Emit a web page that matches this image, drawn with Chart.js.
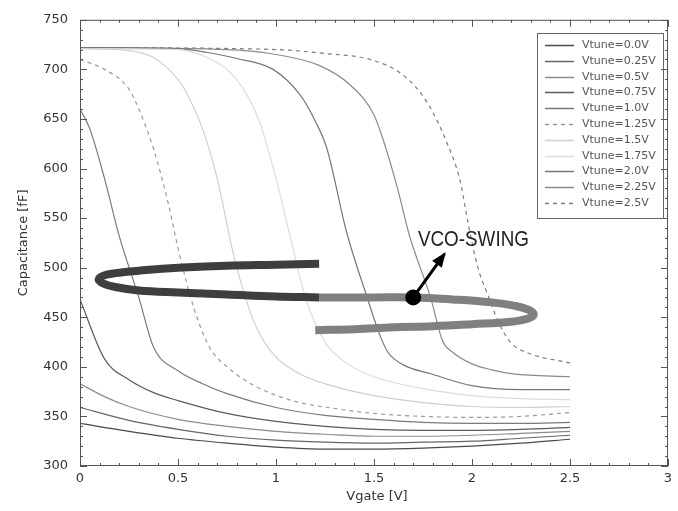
<!DOCTYPE html>
<html>
<head>
<meta charset="utf-8">
<title>Capacitance vs Vgate</title>
<script src="https://cdn.jsdelivr.net/npm/chart.js@4.4.1/dist/chart.umd.min.js"></script>
<style>
  body { margin: 0; background: #fff; }
  #wrap { width: 678px; height: 511px; }
</style>
</head>
<body>
<div id="wrap"><canvas id="capChart" width="678" height="511"></canvas></div>
<script>
// ---- axis ticks ----
const xTicks = [0, 0.5, 1, 1.5, 2, 2.5, 3];
const yTicks = [300, 350, 400, 450, 500, 550, 600, 650, 700, 750];

// ---- series: [Vgate, C(fF)] ----
const tuneLabels = ['Vtune=0.0V', 'Vtune=0.25V', 'Vtune=0.5V', 'Vtune=0.75V', 'Vtune=1.0V', 'Vtune=1.25V',
                    'Vtune=1.5V', 'Vtune=1.75V', 'Vtune=2.0V', 'Vtune=2.25V', 'Vtune=2.5V'];

const cap000 = [[0,343],[0.25,335],[0.5,328],[0.75,323],[1,319],[1.25,317],[1.5,317],[1.75,318],[2,320],[2.25,323],[2.5,327]];
const cap025 = [[0,359],[0.25,346],[0.5,337],[0.75,330],[1,326],[1.25,324],[1.5,323],[1.75,324],[2,325],[2.25,328],[2.5,331]];
const cap050 = [[0,383],[0.125,370],[0.25,360],[0.5,347],[0.75,340],[1,335],[1.25,332],[1.5,330],[1.75,330],[2,331],[2.25,333],[2.5,335]];
const cap075 = [[0,468],[0.125,408],[0.25,387],[0.375,374],[0.5,366],[0.75,353],[1,345],[1.25,340],[1.5,337],[1.75,336],[2,336],[2.25,337],[2.5,339]];
const cap100 = [[0,660],[0.05,640],[0.125,590],[0.2,532],[0.3,470],[0.375,420],[0.5,396],[0.625,383],[0.75,373],[1,359],[1.25,351],[1.5,347],[1.75,344],[2,343],[2.25,343],[2.5,344]];
const cap125 = [[0,710],[0.125,700],[0.25,680],[0.3,660],[0.375,620],[0.45,565],[0.5,520],[0.58,460],[0.66,420],[0.75,400],[0.9,380],[1.1,365],[1.3,358],[1.5,353],[1.75,350],[2,349],[2.25,350],[2.5,354]];
const cap150 = [[0,721],[0.25,719],[0.375,712],[0.5,690],[0.55,674],[0.625,640],[0.7,590],[0.78,516],[0.85,466],[0.9,440],[0.985,413],[1.12,393],[1.3,380],[1.5,371],[1.75,364],[2,360],[2.25,359],[2.5,360]];
const cap175 = [[0,721],[0.5,720],[0.625,714],[0.75,700],[0.85,675],[0.92,645],[1,590],[1.08,525],[1.15,470],[1.25,425],[1.35,405],[1.5,390],[1.75,378],[2,371],[2.25,368],[2.5,367]];
const cap200 = [[0,722],[0.5,721],[0.65,717],[0.8,711],[0.985,700],[1.12,675],[1.2,648],[1.26,620],[1.36,536],[1.46,473],[1.53,432],[1.57,415],[1.65,402],[1.79,393],[2,381],[2.25,377],[2.5,377]];
const cap225 = [[0,722],[0.75,720],[0.97,716],[1.22,704],[1.38,684],[1.5,654],[1.55,627],[1.62,580],[1.68,533],[1.79,469],[1.85,426],[1.9,415],[2,403],[2.1,397],[2.21,393],[2.5,390]];
const cap250 = [[0,722],[1,720],[1.25,716],[1.48,710],[1.65,694],[1.77,667],[1.87,627],[1.94,587],[1.98,545],[2.03,500],[2.08,473],[2.14,443],[2.2,424],[2.3,413],[2.5,404]];

const capSeries = [cap000, cap025, cap050, cap075, cap100, cap125, cap150, cap175, cap200, cap225, cap250];

// ---- VCO swing annotation ----
const swingDark = [[1.22,504],[1.0,503],[0.75,502],[0.5,500],[0.3,497],[0.18,494.5],[0.12,492],[0.095,488],[0.12,484],[0.18,480.5],[0.3,477],[0.5,475],[0.75,473],[1.0,471],[1.22,470]];
const swingGray = [[1.22,470],[1.5,470],[1.7,470],[1.9,468],[2.1,465],[2.22,461.5],[2.29,457.5],[2.315,453],[2.29,449],[2.2,445.5],[2.0,443],[1.8,441],[1.6,440],[1.4,438],[1.2,437]];
const swingDot = [[1.70, 470]];
const swingArrow = [[1.70, 470], [1.86, 514]];
const swingText = 'VCO-SWING';

// ---- styles ----
const curveStyle = [
  { color: '#4a4a4a', dash: [] },
  { color: '#666666', dash: [] },
  { color: '#8c8c8c', dash: [] },
  { color: '#5a5a5a', dash: [] },
  { color: '#7a7a7a', dash: [] },
  { color: '#9a9a9a', dash: [4, 4] },
  { color: '#cfcfcf', dash: [] },
  { color: '#dcdcdc', dash: [] },
  { color: '#777777', dash: [] },
  { color: '#8a8a8a', dash: [] },
  { color: '#7c7c7c', dash: [4, 4] },
];

const toPts = arr => arr.map(([x, y]) => ({ x, y }));

const datasets = [];
datasets.push({ label: 'dot', data: toPts(swingDot), pointRadius: 8, pointBackgroundColor: '#000', pointBorderWidth: 0, showLine: false, order: 0 });
datasets.push({ label: 'arrow', data: toPts(swingArrow), borderColor: '#000', borderWidth: 3, pointRadius: 0, showLine: true, order: 1 });
datasets.push({ label: 'swingDark', data: toPts(swingDark), borderColor: '#3e3e3e', borderWidth: 8, borderCapStyle: 'butt', pointRadius: 0, showLine: true, tension: 0.4, order: 2 });
datasets.push({ label: 'swingGray', data: toPts(swingGray), borderColor: '#808080', borderWidth: 8, borderCapStyle: 'butt', pointRadius: 0, showLine: true, tension: 0.4, order: 2 });
capSeries.forEach((s, i) => {
  datasets.push({
    label: tuneLabels[i],
    data: toPts(s),
    borderColor: curveStyle[i].color,
    borderDash: curveStyle[i].dash,
    borderWidth: 1.2,
    pointRadius: 0,
    showLine: true,
    cubicInterpolationMode: 'monotone',
    order: 3,
    isCurve: true,
  });
});

// frame, inward ticks, legend, titles, annotation text
const decorPlugin = {
  id: 'decor',
  afterDatasetsDraw(chart) {
    const { ctx, chartArea: a, scales: { x, y } } = chart;
    ctx.save();

    // arrow head
    const p0 = { x: x.getPixelForValue(swingArrow[0][0]), y: y.getPixelForValue(swingArrow[0][1]) };
    const p1 = { x: x.getPixelForValue(swingArrow[1][0]), y: y.getPixelForValue(swingArrow[1][1]) };
    let dx = p1.x - p0.x, dy = p1.y - p0.y;
    const len = Math.hypot(dx, dy); dx /= len; dy /= len;
    const hl = 13, hw = 6;
    ctx.fillStyle = '#000';
    ctx.beginPath();
    ctx.moveTo(p1.x + dx * 2, p1.y + dy * 2);
    ctx.lineTo(p1.x - dx * hl - dy * hw, p1.y - dy * hl + dx * hw);
    ctx.lineTo(p1.x - dx * hl + dy * hw, p1.y - dy * hl - dx * hw);
    ctx.closePath();
    ctx.fill();

    // annotation text
    ctx.fillStyle = '#222';
    ctx.font = '22px "Liberation Sans"';
    ctx.textBaseline = 'middle';
    ctx.textAlign = 'left';
    const tx = x.getPixelForValue(1.724), ty = y.getPixelForValue(528);
    const tw = ctx.measureText(swingText).width;
    ctx.save();
    ctx.translate(tx, ty);
    ctx.scale(111 / tw, 1);
    ctx.fillText(swingText, 0, 0);
    ctx.restore();

    // frame
    ctx.strokeStyle = '#555';
    ctx.lineWidth = 1;
    ctx.strokeRect(a.left + 0.5, a.top + 0.5, a.right - a.left - 1, a.bottom - a.top - 1);

    // ticks (inward, mirrored)
    ctx.beginPath();
    for (let i = 0; i <= 30; i++) {
      const px = Math.round(x.getPixelForValue(i / 10)) + 0.5;
      const l = i % 5 === 0 ? 7 : 3;
      ctx.moveTo(px, a.bottom); ctx.lineTo(px, a.bottom - l);
      ctx.moveTo(px, a.top); ctx.lineTo(px, a.top + l);
    }
    for (let i = 0; i <= 45; i++) {
      const py = Math.round(y.getPixelForValue(300 + i * 10)) + 0.5;
      const l = i % 5 === 0 ? 7 : 3;
      ctx.moveTo(a.left, py); ctx.lineTo(a.left + l, py);
      ctx.moveTo(a.right, py); ctx.lineTo(a.right - l, py);
    }
    ctx.stroke();

    // legend
    ctx.strokeStyle = '#666';
    ctx.strokeRect(537.5, 33.5, 126, 185);
    ctx.font = '11px "DejaVu Sans"';
    ctx.textBaseline = 'middle';
    chart.data.datasets.filter(d => d.isCurve).forEach((d, i) => {
      const ly = Math.round(45 + i * 15.8) + 0.5;
      ctx.strokeStyle = d.borderColor;
      ctx.lineWidth = 1.5;
      ctx.setLineDash(d.borderDash);
      ctx.beginPath(); ctx.moveTo(545, ly); ctx.lineTo(574, ly); ctx.stroke();
      ctx.setLineDash([]);
      ctx.fillStyle = '#555';
      ctx.fillText(d.label, 582, ly);
    });

    // axis titles
    ctx.fillStyle = '#333';
    ctx.font = '13px "DejaVu Sans"';
    ctx.textAlign = 'center';
    ctx.fillText('Vgate [V]', (a.left + a.right) / 2 + 3, 497);
    ctx.save();
    ctx.translate(24, (a.top + a.bottom) / 2);
    ctx.rotate(-Math.PI / 2);
    ctx.fillText('Capacitance [fF]', 0, 0);
    ctx.restore();

    ctx.restore();
  }
};

new Chart(document.getElementById('capChart'), {
  type: 'scatter',
  data: { datasets },
  options: {
    responsive: false,
    animation: false,
    devicePixelRatio: 1,
    events: [],
    layout: { padding: { top: 17, right: 10, left: 0, bottom: 0 } },
    plugins: { legend: { display: false }, tooltip: { enabled: false } },
    scales: {
      x: {
        type: 'linear', min: 0, max: 3,
        afterBuildTicks: s => { s.ticks = xTicks.map(v => ({ value: v })); },
        afterFit: s => { s.height = 45; },
        grid: { display: false, drawTicks: false },
        border: { display: false },
        ticks: { color: '#333', font: { family: 'DejaVu Sans', size: 13 }, padding: 5, maxRotation: 0,
                 callback: v => String(v) }
      },
      y: {
        type: 'linear', min: 300, max: 750,
        afterBuildTicks: s => { s.ticks = yTicks.map(v => ({ value: v })); },
        afterFit: s => { s.width = 80; },
        grid: { display: false, drawTicks: false },
        border: { display: false },
        ticks: { color: '#333', font: { family: 'DejaVu Sans', size: 13 }, padding: 12,
                 callback: v => String(v) }
      }
    }
  },
  plugins: [decorPlugin]
});
</script>
</body>
</html>
